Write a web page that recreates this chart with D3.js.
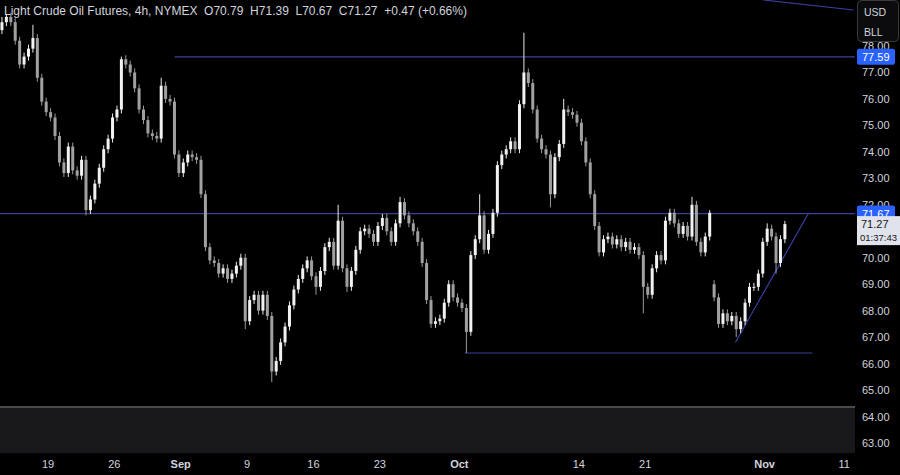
<!DOCTYPE html>
<html><head><meta charset="utf-8">
<script src="https://cdn.jsdelivr.net/npm/d3@7"></script>
<style>body{margin:0;background:#000;}svg{display:block;font-family:"Liberation Sans",Arial,sans-serif;}</style>
</head><body><svg id="c" width="900" height="475"></svg>
<script>
// closes of the candles, 3 bars per trading day, starting at trading day -3.47 (day 0 = Mon Aug 19)
const closes = [78.9,79.1,78.9,78.2,77.3,77.6,77.9,78.3,76.8,75.9,75.5,75.3,74.6,73.6,73.2,74.2,73.3,73.1,73.7,71.8,
72.2,72.8,73.4,74.1,74.5,75.3,75.6,77.5,77.3,77.0,76.4,75.6,75.2,74.7,74.6,74.5,76.5,76.0,75.9,73.9,
73.2,73.6,73.9,73.8,73.7,72.4,70.4,69.9,69.8,69.4,69.6,69.2,69.4,69.7,70.0,67.6,68.4,68.6,68.0,68.6,
67.8,65.7,66.1,66.8,67.4,68.2,68.8,69.2,69.6,69.9,69.3,68.9,69.5,70.4,70.6,69.7,71.4,69.6,68.9,69.5,
70.3,71.0,71.1,70.9,70.6,71.2,71.5,71.0,70.6,71.3,72.1,71.6,71.3,71.0,70.6,69.8,68.4,67.5,67.6,67.7,
68.3,69.0,68.5,68.3,68.1,67.2,70.1,70.7,71.6,70.3,70.9,71.7,73.5,73.9,74.1,74.4,74.1,75.8,77.0,76.6,
75.6,74.5,74.1,73.9,72.4,73.8,74.3,75.6,75.5,75.4,75.1,74.4,73.6,72.4,71.2,70.2,70.7,70.8,70.5,70.7,
70.4,70.6,70.3,70.4,70.1,68.9,68.6,69.6,70.1,69.9,71.4,71.7,71.3,70.9,71.2,70.8,72.0,70.6,70.2,70.8,
71.7,68.5,67.5,67.9,67.6,67.8,67.3,67.6,68.3,68.9,68.9,69.4,70.6,71.1,70.8,69.8,70.7,71.27];
const firstOpen = 78.6;
const gapOpens = {161: 69.0};
const spikeHighs = {0:79.1,1:79.2,7:78.8,27:77.6,36:76.8,76:72.0,90:72.3,108:72.4,118:78.5,127:76.0,156:72.3,160:71.8,173:71.3,177:71.39};
const spikeLows = {19:71.6,55:67.3,61:65.3,71:68.6,78:68.7,105:66.4,124:71.9,145:67.9,166:67.0,175:69.4};
const startDay = -3.47, barsPerDay = 3;
const tickDays = [0,5,10,15,20,25,31,40,45,54,60];
const tickLabels = ["19","26","Sep","9","16","23","Oct","14","21","Nov","11"];
const boldTicks = ["Sep","Oct","Nov"];
const priceTicks = [63,64,65,66,67,68,69,70,72,73,74,75,76,77,78];
const hLines = [{p:77.59,d0:9.54,d1:60.8},{p:71.67,d0:-3.7,d1:60.8},{p:66.4,d0:31.4,d1:57.6}];
const trendLines = [{d0:51.8,p0:66.8,d1:57.3,p1:71.67},{d0:53.9,p0:79.74,d1:60.7,p1:79.36}];
const lastPrice = 71.27, countdown = "01:37:43";

const svg = d3.select("#c");
const x = d3.scaleLinear().domain([0,60]).range([48,844.2]);
const y = d3.scaleLinear().domain([63,78]).range([443,46]);
const lineCol = "#3b3f9e";

svg.append("rect").attr("x",0).attr("y",407).attr("width",855).attr("height",46).attr("fill","#18181b");
svg.append("line").attr("x1",0).attr("x2",855).attr("y1",407).attr("y2",407).attr("stroke","#4a4a4e").attr("stroke-width",2);

const g = svg.append("g");
hLines.forEach(h=>g.append("line").attr("x1",x(h.d0)).attr("x2",x(h.d1)).attr("y1",y(h.p)).attr("y2",y(h.p)).attr("stroke",lineCol).attr("stroke-width",1.2));
trendLines.forEach(t=>g.append("line").attr("x1",x(t.d0)).attr("x2",x(t.d1)).attr("y1",y(t.p0)).attr("y2",y(t.p1)).attr("stroke",lineCol).attr("stroke-width",1.2));

const bars = closes.map((c,i)=>{
  const o = gapOpens[i]!==undefined ? gapOpens[i] : (i===0 ? firstOpen : closes[i-1]);
  const hi = spikeHighs[i]!==undefined ? spikeHighs[i] : Math.max(o,c)+0.15;
  const lo = spikeLows[i]!==undefined ? spikeLows[i] : Math.min(o,c)-0.15;
  return {o,c,hi,lo,d:startDay+i/barsPerDay};
});
const cg = g.selectAll("g.bar").data(bars).join("g");
cg.append("line").attr("x1",d=>x(d.d)).attr("x2",d=>x(d.d)).attr("y1",d=>y(d.hi)).attr("y2",d=>y(d.lo))
  .attr("stroke",d=>d.c>=d.o?"#e8e8e8":"#9a9a9a").attr("stroke-width",1);
cg.append("rect").attr("x",d=>x(d.d)-1.5).attr("width",3)
  .attr("y",d=>y(Math.max(d.o,d.c))).attr("height",d=>Math.max(1,Math.abs(y(d.o)-y(d.c))))
  .attr("fill",d=>d.c>=d.o?"#f2f2f2":"#a0a0a0");

tickDays.forEach((d,i)=>svg.append("text").attr("x",x(d)).attr("y",468).attr("text-anchor","middle")
  .attr("font-size",11).attr("fill","#d1d4dc").attr("font-weight",boldTicks.includes(tickLabels[i])?"bold":"normal").text(tickLabels[i]));
priceTicks.forEach(p=>svg.append("text").attr("x",862).attr("y",y(p)+4).attr("font-size",11).attr("fill","#d1d4dc").text(p.toFixed(2)));
[77.59,71.67].forEach(p=>{
  svg.append("rect").attr("x",857).attr("y",y(p)-8).attr("width",38).attr("height",16).attr("rx",2).attr("fill","#2962ff");
  svg.append("text").attr("x",862).attr("y",y(p)+4).attr("font-size",11).attr("fill","#fff").text(p.toFixed(2));
});
svg.append("rect").attr("x",857).attr("y",y(lastPrice)-8).attr("width",43).attr("height",29).attr("fill","#e0e3eb");
svg.append("text").attr("x",861).attr("y",y(lastPrice)+4).attr("font-size",11).attr("fill","#131722").text(lastPrice.toFixed(2));
svg.append("text").attr("x",860).attr("y",y(lastPrice)+17).attr("font-size",9.5).attr("fill","#131722").text(countdown);
svg.append("rect").attr("x",857.5).attr("y",0.5).attr("width",41).attr("height",41).attr("rx",4).attr("fill","#0c0c0e").attr("stroke","#3a3a3e");
svg.append("text").attr("x",864).attr("y",16).attr("font-size",10.5).attr("fill","#d1d4dc").text("USD");
svg.append("text").attr("x",864).attr("y",36).attr("font-size",10.5).attr("fill","#d1d4dc").text("BLL");
svg.append("text").attr("x",4).attr("y",15).attr("font-size",12).attr("fill","#d1d4dc").attr("xml:space","preserve")
  .text("Light Crude Oil Futures, 4h, NYMEX  O70.79  H71.39  L70.67  C71.27  +0.47 (+0.66%)");
</script></body></html>
